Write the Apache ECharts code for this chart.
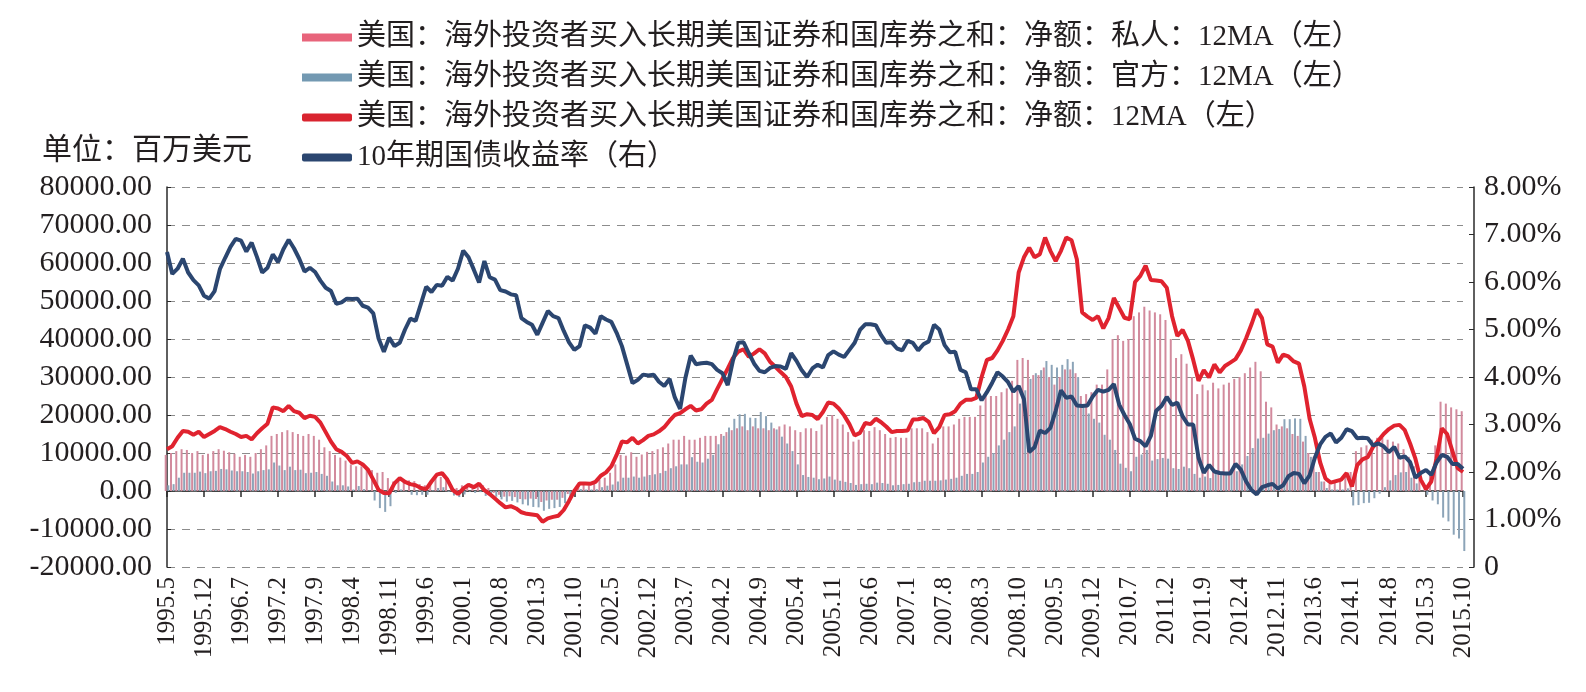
<!DOCTYPE html>
<html>
<head>
<meta charset="utf-8">
<style>
  html, body { margin: 0; padding: 0; background: #fff; }
  #chart { width: 1586px; height: 692px; }
</style>
</head>
<body>
<div id="chart"></div>
<script src="https://cdn.jsdelivr.net/npm/echarts@6/dist/echarts.min.js"></script>
<script>
// month labels 1995.5 ... 2015.10
var months = [];
for (var y = 1995; y <= 2015; y++) {
    for (var m = 1; m <= 12; m++) {
        if (y === 1995 && m < 5) continue;
        if (y === 2015 && m > 10) continue;
        months.push(y + '.' + m);
    }
}

// private net purchases, 12MA (USD mn)
var privateNet = [
    9500, 10000, 10500, 11000, 10800, 10000, 10500, 9500,
    9800, 10500, 11000, 10600, 10200, 9800, 9000, 9500, 9000, 10000, 11000, 12000,
    14500, 15000, 15500, 16000, 15500, 15000, 14500, 15000, 14500, 13500, 11500, 10500,
    9500, 8800, 8000, 7000, 6500, 6500, 5500, 5500, 4800, 5000, 3400, 2500,
    3000, 2500, 2800, 2600, 1800, 1500, 2300, 3500, 3700, 3200, 1500, 800,
    1500, 1800, 1500, 2200, 1500, 800, -500, -1000, -1500, -1400, -1600, -2100,
    -2200, -2000, -2100, -2900, -2500, -2300, -2300, -1800, -800, 300, 1500, 1600,
    1500, 1900, 3000, 3500, 4800, 7000, 9500, 9300, 10200, 9000, 9600, 10300,
    10500, 11000, 11500, 12500, 13500, 13500, 14500, 13500, 13500, 14000, 14500, 14500,
    14500, 15000, 15500, 16000, 16500, 17000, 16000, 17000, 16500, 16500, 16000, 16500,
    17000, 17500, 17000, 16000, 15500, 16500, 16500, 15800, 17500, 19500, 20000, 19000,
    17500, 15500, 13000, 13500, 16000, 15800, 16800, 16000, 15000, 14000, 14200, 14000,
    14000, 16500, 16500, 16500, 15500, 12500, 14000, 17000, 17000, 17500, 19000, 19500,
    19500, 19500, 22500, 25500, 25000, 25000, 26000, 27000, 29000, 34500, 35000, 34500,
    30500, 30500, 32500, 30000, 28000, 30000, 32000, 32000, 31000, 25000, 25500, 26000,
    28000, 28000, 32000, 40000, 41000, 39500, 40000, 46000, 47000, 48500, 47500, 47000,
    46500, 45000, 40000, 35000, 36000, 33500, 30000, 25500, 28000, 26500, 28500, 27000,
    28000, 28500, 29500, 30000, 31000, 32500, 34000, 31500, 23500, 22000, 17500, 17000,
    16500, 15000, 14500, 13000, 10000, 9000, 5000, 2500, 1800, 2200, 2600, 4000,
    5000, 10500, 11500, 12000, 13500, 14000, 14000, 13500, 13000, 12500, 11000, 9000,
    6500, 3000, 1500, 5000, 12000, 23500, 23000, 22000, 21500, 21000
];

// official net purchases, 12MA (USD mn)
var officialNet = [
    1500, 1800, 3500, 4800, 4800, 4800, 5100, 4700,
    5200, 5300, 5800, 5700, 5400, 5200, 5200, 5000, 4600, 5200, 5500, 5700,
    7500, 6700, 5500, 6400, 5500, 5600, 4700, 4800, 5000, 4500, 4000, 2500,
    1500, 1500, 1200, 400, 1300, 500, 100, -2500, -4500, -5500, -4000, -500,
    400, -100, -1000, -1100, -1000, -1000, 200, 800, 1000, -200, -1200, -1600,
    -900, -200, -500, -300, -1300, -1600, -1500, -2200, -2800, -2600, -3000, -3500,
    -3800, -4200, -4300, -5200, -4700, -4500, -4200, -3200, -1800, -300, 500, 400,
    400, 500, 1000, 1400, 1700, 2500, 3500, 3500, 3800, 3500, 3800, 4200,
    4400, 4700, 5300, 6000, 6500, 7000, 7000, 8900, 7700, 7500, 8500, 9500,
    12300, 14500, 16700, 19000, 20200, 20300, 19300, 19200, 20800, 19700, 18000, 16200,
    14300, 12500, 10500, 7000, 4200, 3700, 3500, 3100, 3300, 3800, 3000, 2700,
    2400, 2100, 1600, 1800, 1900, 1800, 2200, 2100, 1900, 1500, 1600, 1800,
    1900, 2300, 2400, 2700, 2700, 2700, 2800, 3000, 3200, 3500, 4000, 4500,
    4500, 5000, 7500, 9000, 10000, 12000, 13500, 15500, 17000, 23000, 26500, 29500,
    31000, 31800, 34200, 33200, 32500, 33200, 34700, 34000, 30000, 22000, 20400, 19000,
    18000, 14800, 13500, 10800, 7200, 6100, 5200, 9000, 9600, 10800, 8000, 8400,
    8700, 8500, 6000, 5800, 6400, 6000, 4500, 3500, 3800, 3400, 4800, 4200,
    4900, 5300, 5200, 7000, 9200, 11300, 13800, 14000, 15100, 16000, 16300, 18900,
    18900, 19100, 19000, 14500, 9000, 5000, 2500, 800, 400, 400, 400, 700,
    -3800, -3700, -3200, -3100, -1900, -700, 1000, 2800, 4200, 4900, 5000, 3500,
    2000, 0, -1000, -2500, -3500, -7000, -8000, -11500, -12500, -15800
];

// total net purchases, 12MA (USD mn)
var totalNet = [
    11000, 11800, 14000, 15800, 15600, 14800, 15600, 14200,
    15000, 15800, 16800, 16300, 15600, 15000, 14200, 14500, 13600, 15200, 16500, 17700,
    22000, 21700, 21000, 22400, 21000, 20600, 19200, 19800, 19500, 18000, 15500, 13000,
    11000, 10300, 9200, 7400, 7800, 7000, 5600, 3000, 300, -500, -600, 2000,
    3400, 2400, 1800, 1500, 800, 500, 2500, 4300, 4700, 3000, 300, -800,
    600, 1600, 1000, 1900, 200, -800, -2000, -3200, -4300, -4000, -4600, -5600,
    -6000, -6200, -6400, -8100, -7200, -6800, -6500, -5000, -2600, 0, 2000, 2000,
    1900, 2400, 4000, 4900, 6500, 9500, 13000, 12800, 14000, 12500, 13400, 14500,
    14900, 15700, 16800, 18500, 20000, 20500, 21500, 22400, 21200, 21500, 23000, 24000,
    26800, 29500, 32200, 35000, 36700, 37300, 35300, 36200, 37300, 36200, 34000, 32700,
    31300, 30000, 27500, 23000, 19700, 20200, 20000, 18900, 20800, 23300, 23000, 21700,
    19900, 17600, 14600, 15300, 17900, 17600, 19000, 18100, 16900, 15500, 15800, 15800,
    15900, 18800, 18900, 19200, 18200, 15200, 16800, 20000, 20200, 21000, 23000, 24000,
    24000, 24500, 30000, 34500, 35000, 37000, 39500, 42500, 46000, 57500, 61500, 64000,
    61500, 62300, 66700, 63200, 60500, 63200, 66700, 66000, 61000, 47000, 45900, 45000,
    46000, 42800, 45500, 50800, 48200, 45600, 45200, 55000, 56600, 59300, 55500, 55400,
    55200, 53500, 46000, 40800, 42400, 39500, 34500, 29000, 31800, 29900, 33300, 31200,
    32900, 33800, 34700, 37000, 40200, 43800, 47800, 45500, 38600, 38000, 33800, 35900,
    35400, 34100, 33500, 27500, 19000, 14000, 7500, 3300, 2200, 2600, 3000, 4700,
    1200, 6800, 8300, 8900, 11600, 13300, 15000, 16300, 17200, 17400, 16000, 12500,
    8500, 3000, 500, 2500, 8500, 16500, 15000, 10500, 6000, 5000
];

// 10-year treasury yield (%)
var yield10y = [
    6.63, 6.17, 6.28, 6.49, 6.20, 6.04, 5.93, 5.71,
    5.65, 5.81, 6.27, 6.51, 6.74, 6.91, 6.87, 6.64, 6.83, 6.53, 6.20, 6.30,
    6.58, 6.42, 6.69, 6.89, 6.71, 6.49, 6.22, 6.30, 6.21, 6.03, 5.88, 5.81,
    5.54, 5.57, 5.65, 5.64, 5.65, 5.50, 5.46, 5.34, 4.81, 4.53, 4.83, 4.65,
    4.72, 5.00, 5.23, 5.18, 5.54, 5.90, 5.79, 5.94, 5.92, 6.11, 6.03, 6.28,
    6.66, 6.52, 6.26, 5.99, 6.44, 6.10, 6.05, 5.83, 5.80, 5.74, 5.72, 5.24,
    5.16, 5.10, 4.89, 5.14, 5.39, 5.28, 5.24, 4.97, 4.73, 4.57, 4.65, 5.09,
    5.04, 4.91, 5.28, 5.21, 5.16, 4.93, 4.65, 4.26, 3.87, 3.94, 4.05, 4.03,
    4.05, 3.90, 3.81, 3.96, 3.57, 3.33, 3.98, 4.45, 4.27, 4.29, 4.30, 4.27,
    4.15, 4.08, 3.83, 4.35, 4.72, 4.73, 4.50, 4.28, 4.13, 4.10, 4.19, 4.23,
    4.22, 4.17, 4.50, 4.34, 4.14, 4.00, 4.18, 4.26, 4.20, 4.46, 4.54, 4.47,
    4.42, 4.57, 4.72, 4.99, 5.11, 5.11, 5.09, 4.88, 4.72, 4.73, 4.60, 4.56,
    4.76, 4.72, 4.56, 4.69, 4.75, 5.10, 5.00, 4.67, 4.52, 4.53, 4.15, 4.10,
    3.74, 3.74, 3.51, 3.68, 3.88, 4.10, 4.01, 3.89, 3.69, 3.81, 3.53, 2.42,
    2.52, 2.87, 2.82, 2.93, 3.29, 3.72, 3.56, 3.59, 3.40, 3.39, 3.40, 3.59,
    3.73, 3.69, 3.73, 3.85, 3.42, 3.20, 3.01, 2.70, 2.65, 2.54, 2.76, 3.29,
    3.39, 3.58, 3.41, 3.46, 3.17, 3.00, 3.00, 2.30, 1.98, 2.15, 2.01, 1.98,
    1.97, 1.97, 2.17, 2.05, 1.80, 1.62, 1.53, 1.68, 1.72, 1.75, 1.65, 1.72,
    1.91, 1.98, 1.96, 1.76, 1.93, 2.30, 2.58, 2.74, 2.81, 2.62, 2.72, 2.90,
    2.86, 2.71, 2.72, 2.71, 2.56, 2.60, 2.54, 2.42, 2.53, 2.30, 2.33, 2.21,
    1.88, 1.98, 2.04, 1.94, 2.20, 2.36, 2.32, 2.17, 2.17, 2.07
];

var seriesNames = [
    '美国：海外投资者买入长期美国证券和国库券之和：净额：私人：12MA（左）',
    '美国：海外投资者买入长期美国证券和国库券之和：净额：官方：12MA（左）',
    '美国：海外投资者买入长期美国证券和国库券之和：净额：12MA（左）',
    '10年期国债收益率（右）'
];

var FONT = '"Liberation Serif", "Noto Sans CJK SC", serif';
var TXT = '#231f20';
var AXIS = '#2a2a2a';

var chart = echarts.init(document.getElementById('chart'));

chart.setOption({
    backgroundColor: '#ffffff',
    animation: false,
    textStyle: { fontFamily: FONT, color: TXT },
    legend: {
        orient: 'vertical',
        left: 297,
        top: 18,
        itemWidth: 50,
        itemHeight: 8,
        itemGap: 11,
        textStyle: { fontFamily: FONT, fontSize: 29, lineHeight: 29, color: TXT },
        data: [
            { name: seriesNames[0], icon: 'rect', itemStyle: { color: '#e8647b', opacity: 1 } },
            { name: seriesNames[1], icon: 'rect', itemStyle: { color: '#7399b2', opacity: 1 } },
            { name: seriesNames[2], icon: 'roundRect', itemStyle: { color: '#d9242f' } },
            { name: seriesNames[3], icon: 'roundRect', itemStyle: { color: '#2b4670' } }
        ]
    },
    graphic: [{
        type: 'text',
        left: 42,
        top: 136,
        style: { text: '单位：百万美元', font: '30px ' + FONT, fill: TXT }
    }],
    grid: { left: 167, right: 123, top: 187, bottom: 125 },
    xAxis: [{
        type: 'category',
        data: months,
        boundaryGap: false,
        axisLine: { show: false, onZero: false },
        axisTick: { show: false },
        axisLabel: {
            interval: 6,
            rotate: 90,
            margin: 10,
            fontSize: 25,
            fontFamily: FONT,
            color: TXT
        },
        splitLine: { show: false }
    }, {
        type: 'category',
        data: months,
        boundaryGap: false,
        position: 'bottom',
        axisLine: { show: true, onZero: true, onZeroAxisIndex: 0, lineStyle: { color: AXIS, width: 1.5 } },
        axisTick: { show: true, interval: 6, length: 6, lineStyle: { color: AXIS, width: 1.5 } },
        axisLabel: { show: false },
        splitLine: { show: false }
    }],
    yAxis: [{
        type: 'value',
        min: -20000,
        max: 80000,
        interval: 10000,
        axisLine: { show: true, lineStyle: { color: AXIS, width: 1.5 } },
        axisTick: { show: true, inside: true, length: 4, lineStyle: { color: AXIS } },
        axisLabel: {
            margin: 15,
            fontSize: 30,
            fontFamily: FONT,
            color: TXT,
            formatter: function (v) { return v.toFixed(2); }
        },
        splitLine: { show: true, lineStyle: { color: '#8c8c8c', type: [8, 7], width: 1 } }
    }, {
        type: 'value',
        position: 'right',
        offset: 11,
        min: 0,
        max: 8,
        interval: 1,
        axisLine: { show: true, lineStyle: { color: AXIS, width: 1.5 } },
        axisTick: { show: true, inside: true, length: 5, lineStyle: { color: AXIS } },
        axisLabel: {
            margin: 10,
            fontSize: 30,
            fontFamily: FONT,
            color: TXT,
            formatter: function (v) { return v === 0 ? '0' : v.toFixed(2) + '%'; }
        },
        splitLine: { show: false }
    }],
    series: [{
        name: seriesNames[0],
        type: 'bar',
        data: privateNet,
        barWidth: 2,
        barGap: '30%',
        itemStyle: { color: '#d28a9d' }
    }, {
        name: seriesNames[1],
        type: 'bar',
        data: officialNet,
        barWidth: 2,
        itemStyle: { color: '#8ca4b8' }
    }, {
        name: seriesNames[2],
        type: 'line',
        data: totalNet,
        symbol: 'none',
        lineStyle: { color: '#e0232f', width: 4 },
        itemStyle: { color: '#e0232f' }
    }, {
        name: seriesNames[3],
        type: 'line',
        yAxisIndex: 1,
        data: yield10y,
        symbol: 'none',
        lineStyle: { color: '#2b4670', width: 4 },
        itemStyle: { color: '#2b4670' }
    }]
});
</script>
</body>
</html>
